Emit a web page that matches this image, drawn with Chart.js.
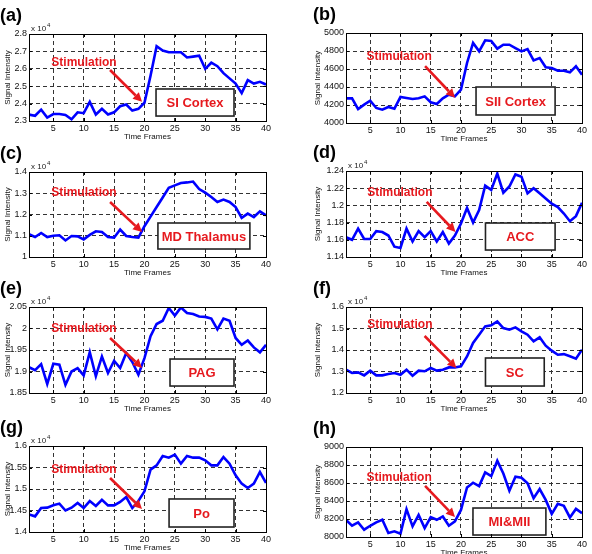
<!DOCTYPE html>
<html>
<head>
<meta charset="utf-8">
<script src="https://cdn.jsdelivr.net/npm/chart.js@4"></script>
<style>
  html, body { margin: 0; background: #fff; }
  #fig { position: relative; width: 592px; height: 554px; overflow: hidden; background: #fff; }
  #fig canvas { position: absolute; }
</style>
</head>
<body>
<div id="fig"></div>
<script>
const timeFrames = [1, 2, 3, 4, 5, 6, 7, 8, 9, 10, 11, 12, 13, 14, 15, 16, 17, 18, 19, 20,
    21, 22, 23, 24, 25, 26, 27, 28, 29, 30, 31, 32, 33, 34, 35, 36, 37, 38, 39, 40];
const xTicks = [5, 10, 15, 20, 25, 30, 35, 40];

// signal intensity per region (values shown as on the axes, some are x 10^4)
const siCortex = [2.337, 2.33, 2.365, 2.32, 2.34, 2.34, 2.335, 2.31, 2.35, 2.345, 2.41, 2.337, 2.37, 2.337, 2.35, 2.385, 2.395, 2.36, 2.37, 2.405,
    2.56, 2.73, 2.705, 2.695, 2.695, 2.695, 2.665, 2.67, 2.675, 2.6, 2.635, 2.615, 2.575, 2.545, 2.515, 2.46, 2.535, 2.515, 2.525, 2.51];
const siiCortex = [4274, 4274, 4155, 4204, 4248, 4167, 4148, 4178, 4159, 4289, 4278, 4267, 4274, 4296, 4230, 4211, 4274, 4315, 4296, 4370,
    4667, 4889, 4796, 4919, 4911, 4826, 4870, 4870, 4833, 4796, 4822, 4696, 4722, 4619, 4611, 4581, 4581, 4563, 4630, 4537];
const mdThalamus = [1.107, 1.094, 1.113, 1.094, 1.1, 1.102, 1.078, 1.099, 1.097, 1.083, 1.104, 1.121, 1.118, 1.094, 1.091, 1.129, 1.099, 1.094, 1.091, 1.145,
    1.19, 1.235, 1.28, 1.326, 1.337, 1.348, 1.351, 1.355, 1.32, 1.303, 1.282, 1.259, 1.27, 1.259, 1.235, 1.184, 1.204, 1.188, 1.215, 1.196];
const acc = [1.163, 1.16, 1.173, 1.161, 1.161, 1.17, 1.169, 1.165, 1.152, 1.1505, 1.173, 1.158, 1.17, 1.163, 1.17, 1.158, 1.169, 1.1556, 1.165, 1.179,
    1.197, 1.18, 1.1945, 1.223, 1.218, 1.237, 1.2147, 1.222, 1.236, 1.2334, 1.214, 1.22, 1.214, 1.208, 1.202, 1.198, 1.1906, 1.1816, 1.1875, 1.203];
const pag = [1.91, 1.903, 1.917, 1.871, 1.918, 1.916, 1.869, 1.9, 1.908, 1.891, 1.945, 1.889, 1.935, 1.8965, 1.925, 1.908, 1.943, 1.922, 1.8926, 1.931,
    1.982, 2.0105, 2.018, 2.0477, 2.03, 2.049, 2.036, 2.0337, 2.028, 2.027, 2.023, 1.998, 2.023, 2.018, 1.978, 1.962, 1.972, 1.956, 1.9446, 1.962];
const sc = [1.3085, 1.293, 1.296, 1.282, 1.304, 1.282, 1.282, 1.288, 1.293, 1.285, 1.3085, 1.2806, 1.304, 1.301, 1.316, 1.304, 1.3085, 1.319, 1.319, 1.324,
    1.37, 1.4326, 1.471, 1.51, 1.5147, 1.533, 1.502, 1.4946, 1.5054, 1.4868, 1.471, 1.44, 1.459, 1.42, 1.397, 1.378, 1.381, 1.3705, 1.3597, 1.4016];
const po = [1.441, 1.4364, 1.4558, 1.4566, 1.462, 1.466, 1.45, 1.4566, 1.4674, 1.4558, 1.472, 1.4605, 1.475, 1.462, 1.462, 1.47, 1.4814, 1.4558, 1.472, 1.4946,
    1.545, 1.555, 1.5767, 1.5729, 1.58, 1.559, 1.5767, 1.5729, 1.5729, 1.5667, 1.555, 1.555, 1.5744, 1.559, 1.5318, 1.5124, 1.5023, 1.5124, 1.5395, 1.514];
const miMii = [8191, 8125, 8162, 8081, 8125, 8162, 8191, 8044, 8063, 8037, 8309, 8118, 8246, 8099, 8221, 8191, 8228, 8125, 8173, 8301,
    8551, 8603, 8566, 8717, 8676, 8846, 8706, 8515, 8669, 8658, 8596, 8430, 8533, 8412, 8257, 8368, 8346, 8217, 8312, 8265];

const siTicks = [2.3, 2.4, 2.5, 2.6, 2.7, 2.8];
const siiTicks = [4000, 4200, 4400, 4600, 4800, 5000];
const mdTicks = [1, 1.1, 1.2, 1.3, 1.4];
const accTicks = [1.14, 1.16, 1.18, 1.2, 1.22, 1.24];
const pagTicks = [1.85, 1.9, 1.95, 2, 2.05];
const scTicks = [1.2, 1.3, 1.4, 1.5, 1.6];
const poTicks = [1.4, 1.45, 1.5, 1.55, 1.6];
const miTicks = [8000, 8200, 8400, 8600, 8800, 9000];

const tags = ["(a)", "(b)", "(c)", "(d)", "(e)", "(f)", "(g)", "(h)"];
const regions = ["SI Cortex", "SII Cortex", "MD Thalamus", "ACC", "PAG", "SC", "Po", "MI&MII"];

const RED = "rgb(230,25,30)";
const FONT = "'Liberation Sans', Arial, Helvetica, sans-serif";
Chart.defaults.font.family = FONT;

// layout: col, plot top/height in page px; annotations as fractions of the plot area
const panels = [
    { values: siCortex, yTicks: siTicks, exp: true, col: 0, top: 34, h: 87,
      stim: [0.232, 0.333], arrow: [0.342, 0.414, 0.477, 0.78], box: [0.536, 0.632, 0.865, 0.943] },
    { values: siiCortex, yTicks: siiTicks, exp: false, col: 1, top: 33, h: 90,
      stim: [0.225, 0.267], arrow: [0.335, 0.367, 0.462, 0.72], box: [0.551, 0.6, 0.886, 0.911] },
    { values: mdThalamus, yTicks: mdTicks, exp: true, col: 0, top: 172, h: 85,
      stim: [0.232, 0.247], arrow: [0.342, 0.353, 0.477, 0.706], box: [0.544, 0.6, 0.932, 0.906] },
    { values: acc, yTicks: accTicks, exp: true, col: 1, top: 171, h: 86,
      stim: [0.228, 0.256], arrow: [0.342, 0.36, 0.464, 0.709], box: [0.591, 0.605, 0.886, 0.919] },
    { values: pag, yTicks: pagTicks, exp: true, col: 0, top: 307, h: 86,
      stim: [0.232, 0.256], arrow: [0.342, 0.36, 0.477, 0.709], box: [0.595, 0.605, 0.865, 0.919] },
    { values: sc, yTicks: scTicks, exp: true, col: 1, top: 307, h: 86,
      stim: [0.228, 0.209], arrow: [0.333, 0.337, 0.468, 0.709], box: [0.591, 0.593, 0.84, 0.919] },
    { values: po, yTicks: poTicks, exp: true, col: 0, top: 446, h: 86,
      stim: [0.232, 0.279], arrow: [0.342, 0.372, 0.477, 0.733], box: [0.591, 0.616, 0.865, 0.942] },
    { values: miMii, yTicks: miTicks, exp: false, col: 1, top: 447, h: 90,
      stim: [0.225, 0.344], arrow: [0.335, 0.433, 0.462, 0.778], box: [0.538, 0.678, 0.847, 0.978] }
];

const decor = (p, i) => ({
    id: "decor",
    afterDatasetsDraw(chart) {
        const { ctx, chartArea: a } = chart;
        const w = a.right - a.left, h = a.bottom - a.top;
        const X = f => a.left + f * w, Y = f => a.top + f * h;
        ctx.save();

        // arrow
        const [x1, y1, x2, y2] = [X(p.arrow[0]), Y(p.arrow[1]), X(p.arrow[2]), Y(p.arrow[3])];
        const ang = Math.atan2(y2 - y1, x2 - x1), hl = 9, hw = 4.5;
        const bx = x2 - hl * Math.cos(ang), by = y2 - hl * Math.sin(ang);
        ctx.strokeStyle = RED;
        ctx.fillStyle = RED;
        ctx.lineWidth = 2.6;
        ctx.beginPath();
        ctx.moveTo(x1, y1);
        ctx.lineTo(bx, by);
        ctx.stroke();
        ctx.beginPath();
        ctx.moveTo(x2, y2);
        ctx.lineTo(bx - hw * Math.sin(ang), by + hw * Math.cos(ang));
        ctx.lineTo(bx + hw * Math.sin(ang), by - hw * Math.cos(ang));
        ctx.closePath();
        ctx.fill();

        ctx.font = "bold 12px " + FONT;
        ctx.textAlign = "center";
        ctx.textBaseline = "middle";
        ctx.fillText("Stimulation", X(p.stim[0]), Y(p.stim[1]));

        // region box
        const [l, t, r, b] = [X(p.box[0]), Y(p.box[1]), X(p.box[2]), Y(p.box[3])];
        ctx.fillStyle = "#fff";
        ctx.fillRect(l, t, r - l, b - t);
        ctx.strokeStyle = "#222";
        ctx.lineWidth = 1.6;
        ctx.strokeRect(l, t, r - l, b - t);
        ctx.fillStyle = RED;
        ctx.font = "bold 13px " + FONT;
        ctx.fillText(regions[i], (l + r) / 2, (t + b) / 2 + 1);
        ctx.restore();
    },
    afterDraw(chart) {
        const { ctx, chartArea: a } = chart;
        const sx = chart.scales.x, sy = chart.scales.y;
        ctx.save();
        ctx.strokeStyle = "#000";
        ctx.lineWidth = 1;
        ctx.strokeRect(Math.round(a.left) + 0.5, Math.round(a.top) + 0.5,
            Math.round(a.right - a.left), Math.round(a.bottom - a.top));
        ctx.beginPath();
        xTicks.slice(0, -1).forEach(v => {
            const px = Math.round(sx.getPixelForValue(v)) + 0.5;
            ctx.moveTo(px, a.bottom); ctx.lineTo(px, a.bottom - 3);
            ctx.moveTo(px, a.top); ctx.lineTo(px, a.top + 3);
        });
        p.yTicks.slice(1, -1).forEach(v => {
            const py = Math.round(sy.getPixelForValue(v)) + 0.5;
            ctx.moveTo(a.left, py); ctx.lineTo(a.left + 3, py);
            ctx.moveTo(a.right, py); ctx.lineTo(a.right - 3, py);
        });
        ctx.stroke();

        ctx.fillStyle = "#000";
        ctx.textBaseline = "middle";
        ctx.textAlign = "left";
        ctx.font = "bold 18px " + FONT;
        ctx.fillText(tags[i], p.col ? 17 : 0, a.top - 18);

        if (p.exp) {
            ctx.fillStyle = "#222";
            ctx.textBaseline = "alphabetic";
            ctx.font = "8px " + FONT;
            ctx.fillText("x 10", a.left + 2, a.top - 3);
            const tw = ctx.measureText("x 10").width;
            ctx.font = "6px " + FONT;
            ctx.fillText("4", a.left + 3 + tw, a.top - 7);
        }
        ctx.restore();
    }
});

const fig = document.getElementById("fig");
panels.forEach((p, i) => {
    const cv = document.createElement("canvas");
    const H = 34 + p.h + 21;
    cv.width = 296;
    cv.height = H;
    cv.style.left = (p.col ? 296 : 0) + "px";
    cv.style.top = (p.top - 34) + "px";
    cv.style.width = "296px";
    cv.style.height = H + "px";
    fig.appendChild(cv);

    new Chart(cv, {
        type: "line",
        data: {
            datasets: [{
                data: timeFrames.map((t, k) => ({ x: t, y: p.values[k] })),
                borderColor: "#0000ff",
                borderWidth: 2.6,
                pointRadius: 0,
                tension: 0,
                fill: false
            }]
        },
        options: {
            responsive: false,
            animation: false,
            events: [],
            layout: { padding: { top: 34, bottom: 0, left: p.col ? 14 : 0, right: p.col ? 10 : 30 } },
            plugins: { legend: { display: false }, tooltip: { enabled: false } },
            scales: {
                x: {
                    type: "linear",
                    min: 1,
                    max: 40,
                    afterBuildTicks: s => { s.ticks = xTicks.map(v => ({ value: v })); },
                    afterFit: s => { s.height = 21; },
                    grid: { color: "#333", lineWidth: 1, drawTicks: false },
                    border: { display: false, dash: [4, 3] },
                    ticks: { autoSkip: false, maxRotation: 0, padding: 2, color: "#111", font: { size: 9 } },
                    title: { display: true, text: "Time Frames", color: "#111", font: { size: 8 }, padding: { top: 0, bottom: 0 } }
                },
                y: {
                    min: p.yTicks[0],
                    max: p.yTicks[p.yTicks.length - 1],
                    afterBuildTicks: s => { s.ticks = p.yTicks.map(v => ({ value: v })); },
                    afterFit: s => { s.width = p.col ? 36 : 29; },
                    grid: { color: "#333", lineWidth: 1, drawTicks: false },
                    border: { display: false, dash: [4, 3] },
                    ticks: { padding: 2, color: "#111", font: { size: 9 }, callback: v => String(v) },
                    title: { display: true, text: "Signal Intensity", color: "#111", font: { size: 8 }, padding: { top: 3, bottom: 0 } }
                }
            }
        },
        plugins: [decor(p, i)]
    });
});
</script>
</body>
</html>
